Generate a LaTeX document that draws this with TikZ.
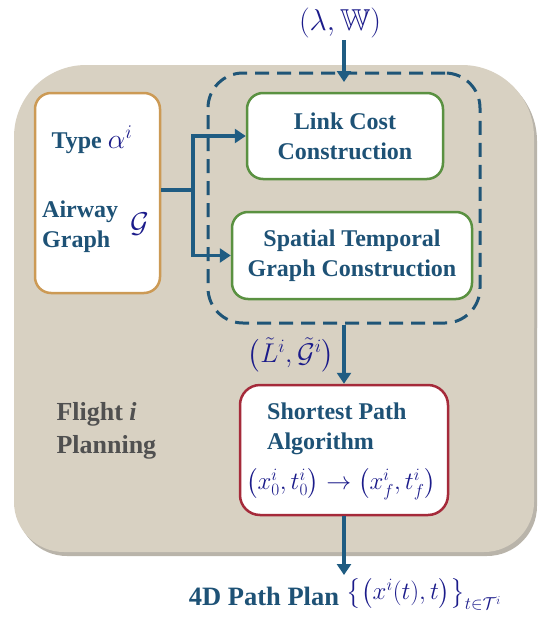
\documentclass[tikz,border=0pt]{standalone}
\usepackage{amssymb}
\usepackage{fontspec}
\setmainfont{Liberation Serif}
\usetikzlibrary{arrows.meta}
\definecolor{beige}{HTML}{D8D1C2}
\definecolor{shadowc}{HTML}{B9B4AA}
\definecolor{tblue}{HTML}{1E5276}
\definecolor{ablue}{HTML}{1F5C82}
\definecolor{dblue}{HTML}{1F5577}
\definecolor{mnavy}{HTML}{1B1B8A}
\definecolor{borange}{HTML}{CC9A55}
\definecolor{bgreen}{HTML}{5A9141}
\definecolor{bred}{HTML}{A52A3A}
\definecolor{tgray}{HTML}{505050}
\begin{document}
\begin{tikzpicture}[x=1pt,y=-1pt,
  txt/.style={font=\fontsize{24}{30}\selectfont\bfseries, text=tblue, align=center, inner sep=1pt},
  mth/.style={text=mnavy, inner sep=0pt, font=\fontsize{25}{30}\selectfont},
  box/.style={fill=white, rounded corners=16pt, line width=2.5pt, inner sep=0pt},
  arr/.style={draw=ablue, line width=3.5pt, -{Triangle[length=11pt,width=14pt]}},
  plain/.style={draw=ablue, line width=3.5pt}]
\useasboundingbox (0,0) rectangle (539,624);
% background panel with soft shadow
\fill[shadowc, rounded corners=72pt] (17,69) rectangle (537,400);
\fill[shadowc, rounded corners=50pt] (17,200) rectangle (537,556);
\fill[beige, rounded corners=72pt] (14,65) rectangle (534,400);
\fill[beige, rounded corners=50pt] (14,200) rectangle (534,552);
% dashed group
\node[draw=dblue, dash pattern=on 14pt off 8pt, line width=3pt, rounded corners=35pt,
      minimum width=272pt, minimum height=250pt, inner sep=0pt] (dash) at (344,198) {};
% left box
\node[box, draw=borange, minimum width=125pt, minimum height=200pt] (left) at (97.5,193) {};
\node[txt] (type) at (92,140) {Type \textcolor{mnavy}{\scalebox{1.12}{$\alpha^i$}}};
\node[txt, align=left, anchor=west] (airway) at (41,227) {Airway\\Graph};
\node[mth] (calg) at (140,224) {\scalebox{1.15}{$\mathcal{G}$}};
% green boxes
\node[box, draw=bgreen, txt, minimum width=196pt, minimum height=86pt] (lc) at (345,136) {Link Cost\\Construction};
\node[box, draw=bgreen, txt, minimum width=240pt, minimum height=87pt] (st) at (352,255.5) {Spatial Temporal\\Graph Construction};
% red box
\node[box, draw=bred, rounded corners=20pt, minimum width=208pt, minimum height=130pt] (sp) at (344,450) {};
\node[txt, align=left, anchor=west] (sptxt) at (266,429) {Shortest Path\\Algorithm};
\node[mth] (spf) at (341,484) {$\left(x_0^i,t_0^i\right)\rightarrow\left(x_f^i,t_f^i\right)$};
% labels
\node[mth] (lam) at (340,23) {\scalebox{1.21}{$(\lambda,\mathbb{W})$}};
\node[mth] (lg) at (291,355) {\scalebox{1.09}{$\left(\tilde{L}^i,\tilde{\mathcal{G}}^i\right)$}};
\node[font=\fontsize{26}{33}\selectfont\bfseries, text=tgray, align=left, anchor=west] (flight) at (53,431) {Flight \textit{i}\\Planning};
\node[txt, font=\fontsize{26.5}{30}\selectfont\bfseries] (plan) at (264,596) {4D Path Plan};
\node[mth] (planf) at (424,594) {$\left\{\left(x^i(t),t\right)\right\}_{t\in\mathcal{T}^i}$};
% connectors
\coordinate (topend) at (344,82);
\draw[arr] (topend |- lam.south) ++(0,2) -- (topend);
\coordinate (j) at (193,190);
\draw[plain] (left.east |- j) -- (j);
\draw[arr] (j) |- (lc.west);
\draw[arr] (j) |- (st.west);
\draw[arr] (dash.south -| sp.north) -- (sp.north);
\coordinate (outend) at (344,575);
\draw[arr] (sp.south) -- (outend);
\end{tikzpicture}
\end{document}
